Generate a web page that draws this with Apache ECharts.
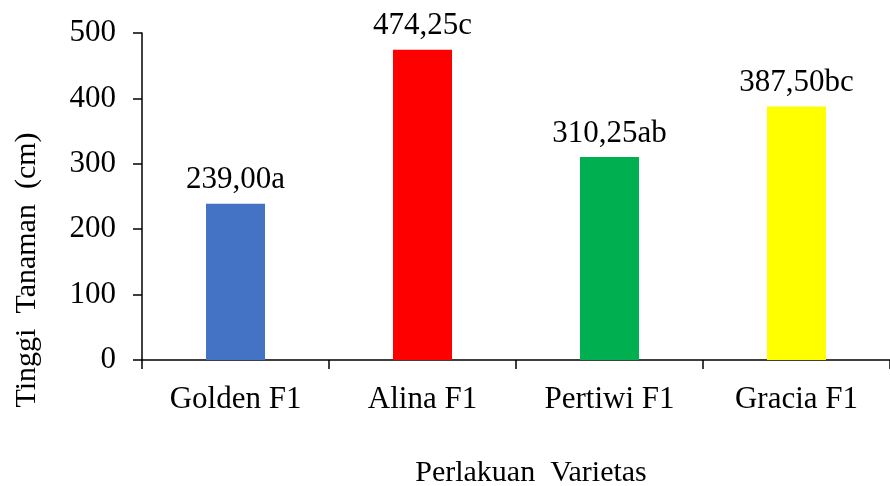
<!DOCTYPE html>
<html>
<head>
<meta charset="utf-8">
<script src="https://cdn.jsdelivr.net/npm/echarts@6/dist/echarts.min.js"></script>
<style>
  html, body { margin: 0; padding: 0; background: #fff; }
  #chart { width: 890px; height: 486px; }
</style>
</head>
<body>
<div id="chart"></div>
<script>
// data
var varietas = ['Golden F1', 'Alina F1', 'Pertiwi F1', 'Gracia F1'];
var tinggi = [239.00, 474.25, 310.25, 387.50];
var notasi = ['a', 'c', 'ab', 'bc'];
var warna = ['#4472C4', '#FF0000', '#00B050', '#FFFF00'];
var yTicks = [0, 100, 200, 300, 400, 500];

var serif = "'Liberation Serif', 'Times New Roman', serif";

(function () {
    var myChart = echarts.init(document.getElementById('chart'));

    var option = {
        animation: false,
        backgroundColor: '#ffffff',
        grid: {
            left: 142,
            right: 0,
            top: 33,
            bottom: 126
        },
        xAxis: {
            type: 'category',
            data: varietas,
            axisLine: { lineStyle: { color: '#000', width: 1.5 } },
            axisTick: { show: true, length: 9, lineStyle: { color: '#000', width: 1.5 } },
            axisLabel: {
                color: '#000',
                fontFamily: serif,
                fontSize: 31,
                margin: 24
            }
        },
        yAxis: {
            type: 'value',
            min: yTicks[0],
            max: yTicks[yTicks.length - 1],
            interval: 100,
            splitLine: { show: false },
            axisLine: { show: true, lineStyle: { color: '#000', width: 1.5 } },
            axisTick: { show: true, length: 9, lineStyle: { color: '#000', width: 1.5 } },
            axisLabel: {
                color: '#000',
                fontFamily: serif,
                fontSize: 31,
                margin: 26
            }
        },
        graphic: [
            {
                type: 'text',
                x: 27,
                y: 270,
                rotation: Math.PI / 2,
                style: {
                    text: 'Tinggi  Tanaman  (cm)',
                    fontFamily: serif,
                    fontSize: 30,
                    fill: '#000',
                    align: 'center',
                    verticalAlign: 'middle'
                }
            },
            {
                type: 'text',
                x: 531,
                y: 473,
                style: {
                    text: 'Perlakuan  Varietas',
                    fontFamily: serif,
                    fontSize: 30,
                    fill: '#000',
                    align: 'center',
                    verticalAlign: 'middle'
                }
            }
        ],
        series: [
            {
                type: 'bar',
                barWidth: 59,
                data: tinggi.map(function (v, i) {
                    return { value: v, itemStyle: { color: warna[i] } };
                }),
                label: {
                    show: true,
                    position: 'top',
                    distance: 8,
                    color: '#000',
                    fontFamily: serif,
                    fontSize: 31,
                    formatter: function (p) {
                        return p.value.toFixed(2).replace('.', ',') + notasi[p.dataIndex];
                    }
                }
            }
        ]
    };

    myChart.setOption(option);
    window.addEventListener('resize', function () {
        myChart.resize();
    });
})();
</script>
</body>
</html>
